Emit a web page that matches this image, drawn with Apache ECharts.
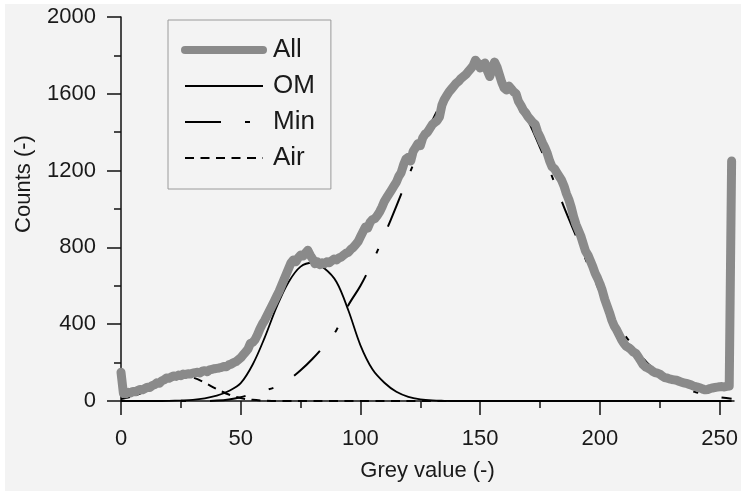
<!DOCTYPE html>
<html>
<head>
<meta charset="utf-8">
<script src="https://cdn.jsdelivr.net/npm/echarts@6/dist/echarts.min.js"></script>
<style>
html,body{margin:0;padding:0;background:#ffffff;}
#chart{position:absolute;left:5px;top:4px;width:736px;height:487px;}
</style>
</head>
<body>
<div id="chart"></div>
<script>
// ---- data ----
const xLabels = [0, 50, 100, 150, 200, 250];
const xMinorTicks = [25, 75, 125, 175, 225];
const legendNames = ['All', 'OM', 'Min', 'Air'];

// "All": counts for grey values 0..255
const allCounts = [
  150, 40, 38, 45, 42, 50, 48, 55, 60, 58,
  65, 72, 70, 80, 85, 95, 92, 105, 110, 120,
  118, 125, 130, 128, 135, 132, 140, 138, 142, 140,
  145, 148, 150, 146, 155, 158, 152, 162, 165, 168,
  170, 172, 175, 180, 178, 188, 192, 200, 205, 215,
  225, 240, 255, 270, 300, 305, 320, 345, 375, 400,
  420, 445, 470, 495, 520, 545, 570, 600, 630, 660,
  690, 720, 735, 725, 745, 760, 755, 770, 785, 760,
  740, 715, 725, 710, 720, 715, 725, 720, 730, 740,
  735, 745, 750, 760, 770, 775, 790, 800, 815, 830,
  855, 880, 905, 900, 930, 945, 950, 965, 985, 1010,
  1040, 1060, 1080, 1100, 1120, 1140, 1170, 1190, 1230, 1260,
  1270, 1250, 1300, 1320, 1340, 1330, 1370, 1390, 1400, 1420,
  1440, 1450, 1460, 1480, 1540, 1570, 1590, 1610, 1625, 1640,
  1655, 1665, 1680, 1690, 1700, 1715, 1730, 1745, 1775, 1760,
  1735, 1750, 1760, 1720, 1690, 1730, 1765, 1740, 1700, 1660,
  1630, 1620, 1640, 1625, 1610, 1600, 1560, 1540, 1515, 1500,
  1480, 1465, 1450, 1440, 1400, 1375, 1345, 1320, 1290, 1250,
  1220, 1210, 1190, 1170, 1150, 1120, 1080, 1050, 1010, 960,
  920, 890, 860, 820, 780, 760, 730, 700, 665, 640,
  610, 575, 530, 495, 460, 420, 390, 370, 345, 320,
  300, 285, 278, 268, 255, 248, 230, 210, 190, 178,
  172, 165, 155, 148, 145, 140, 130, 122, 120, 115,
  112, 110, 108, 103, 98, 95, 92, 88, 84, 78,
  74, 72, 68, 62, 58, 60, 65, 68, 70, 72,
  74, 75, 73, 76, 78, 1250
];

// fitted components, sampled at these grey values
const fitX = [0, 5, 10, 15, 20, 25, 30, 35, 40, 45, 50, 55, 60, 65, 70, 75, 80, 85, 90, 95,
  100, 105, 110, 115, 120, 125, 130, 135, 140, 145, 150, 155, 160, 165, 170, 175, 180, 185,
  190, 195, 200, 205, 210, 215, 220, 225, 230, 235, 240, 245, 250, 255];
const omCounts = [0, 0, 0, 0, 1, 3, 6, 14, 28, 52, 93, 190, 330, 490, 620, 700, 720, 690, 620, 470,
  290, 165, 95, 48, 22, 9, 3, 1, 0, 0, 0, 0, 0, 0, 0, 0, 0, 0,
  0, 0, 0, 0, 0, 0, 0, 0, 0, 0, 0, 0, 0, 0];
const minCounts = [0, 0, 0, 0, 0, 0, 0, 0, 2, 8, 20, 38, 55, 75, 110, 160, 220, 290, 370, 500,
  600, 725, 865, 1015, 1170, 1320, 1460, 1580, 1670, 1730, 1750, 1730, 1670, 1580, 1460, 1320, 1170, 1010,
  860, 710, 570, 450, 350, 270, 195, 140, 98, 68, 46, 31, 20, 12];
const airCounts = [10, 25, 50, 80, 110, 128, 122, 95, 62, 34, 15, 6, 2, 0, 0, 0, 0, 0, 0, 0,
  0, 0, 0, 0, 0, 0, 0, 0, 0, 0, 0, 0, 0, 0, 0, 0, 0, 0,
  0, 0, 0, 0, 0, 0, 0, 0, 0, 0, 0, 0, 0, 0];

const allData = allCounts.map((v, i) => [i, v]);
const pair = (ys) => fitX.map((x, i) => [x, ys[i]]);

const FONT = 'Liberation Sans, Arial, sans-serif';
const TXT = '#1a1a1a';
const GREY = '#8a8a8a';

const chart = echarts.init(document.getElementById('chart'), null, {renderer: 'canvas'});
chart.setOption({
  backgroundColor: '#f3f3f3',
  animation: false,
  grid: {left: 116, right: 4, top: 13, bottom: 90, containLabel: false},
  legend: {
    data: [
      {name: legendNames[0], lineStyle: {width: 8, cap: 'round', color: GREY}},
      {name: legendNames[1], lineStyle: {width: 2}},
      {name: legendNames[2], lineStyle: {width: 2}},
      {name: legendNames[3], lineStyle: {width: 2}}
    ],
    orient: 'vertical',
    left: 163,
    top: 16,
    padding: [17, 16, 18, 13],
    itemGap: 10,
    itemWidth: 78,
    itemHeight: 14,
    borderColor: '#9a9a9a',
    borderWidth: 1,
    backgroundColor: 'transparent',
    itemStyle: {opacity: 0},
    selectedMode: false,
    textStyle: {fontFamily: FONT, fontSize: 26, color: TXT, padding: [0, 0, 0, 5]}
  },
  xAxis: [{
    type: 'value', min: 0, max: 256,
    name: 'Grey value (-)', nameLocation: 'middle', nameGap: 59,
    nameTextStyle: {fontFamily: FONT, fontSize: 22, color: TXT},
    axisLine: {show: true, onZero: false, lineStyle: {color: '#111', width: 1.5}},
    axisTick: {show: true, length: 14, customValues: xLabels, lineStyle: {color: '#111', width: 1.5}},
    axisLabel: {customValues: xLabels, fontFamily: FONT, fontSize: 22, color: TXT, margin: 27},
    splitLine: {show: false}
  }, {
    type: 'value', min: 0, max: 256, position: 'bottom',
    axisLine: {show: false},
    axisTick: {show: true, length: 7, customValues: xMinorTicks, lineStyle: {color: '#111', width: 1.5}},
    axisLabel: {show: false},
    splitLine: {show: false}
  }],
  yAxis: {
    type: 'value', min: 0, max: 2000, interval: 400,
    name: 'Counts (-)', nameLocation: 'middle', nameGap: 86,
    nameTextStyle: {fontFamily: FONT, fontSize: 22, color: TXT, padding: [0, 0, 0, 50]},
    axisLine: {show: true, lineStyle: {color: '#111', width: 1.5}},
    axisTick: {show: true, length: 14, lineStyle: {color: '#111', width: 1.5}},
    minorTick: {show: true, splitNumber: 2, length: 7, lineStyle: {color: '#111', width: 1.5}},
    axisLabel: {fontFamily: FONT, fontSize: 22, color: TXT, margin: 25, formatter: (v) => String(v)},
    splitLine: {show: false},
    minorSplitLine: {show: false}
  },
  series: [
    {name: 'OM', type: 'line', data: pair(omCounts), smooth: 0.35, symbol: 'none', z: 2,
     lineStyle: {color: '#000', width: 1.8, type: 'solid'}, itemStyle: {color: '#000'}},
    {name: 'Min', type: 'line', data: pair(minCounts), smooth: 0.35, symbol: 'none', z: 2,
     lineStyle: {color: '#000', width: 2, type: [36, 24, 5, 24]}, itemStyle: {color: '#000'}},
    {name: 'Air', type: 'line', data: pair(airCounts), smooth: 0.35, symbol: 'none', z: 2,
     lineStyle: {color: '#000', width: 2, type: [9, 6.5]}, itemStyle: {color: '#000'}},
    {name: 'All', type: 'line', data: allData, symbol: 'none', z: 3,
     lineStyle: {color: GREY, width: 9, cap: 'round', join: 'round'}, itemStyle: {color: GREY}}
  ]
});
</script>
</body>
</html>
